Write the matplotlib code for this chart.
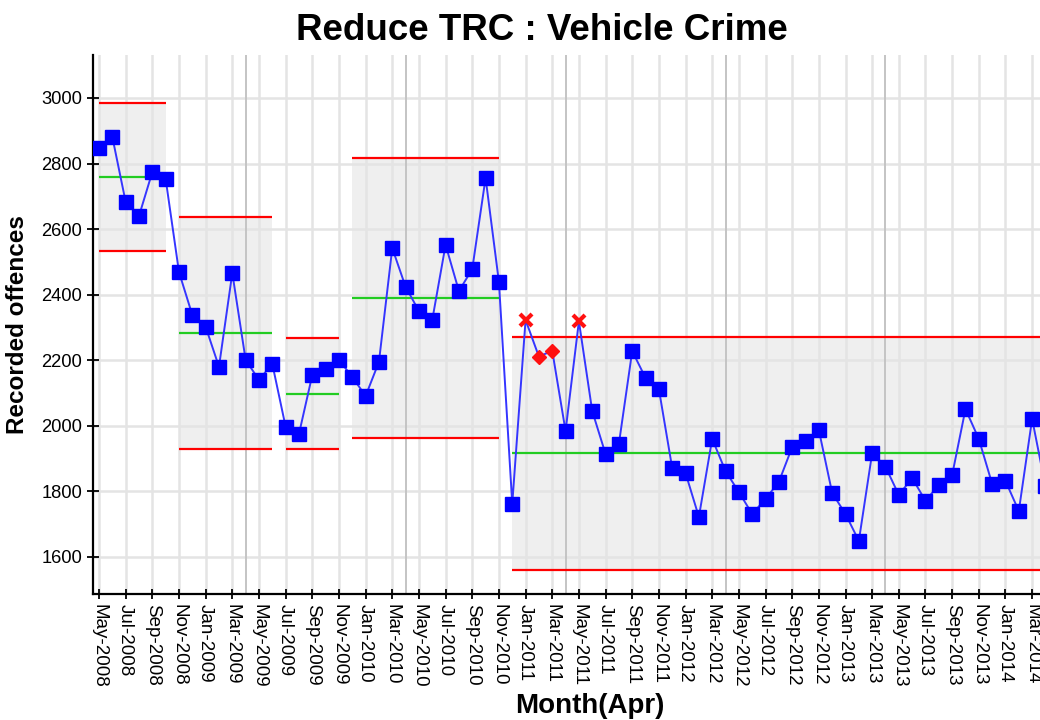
import matplotlib
matplotlib.use("Agg")
import matplotlib.pyplot as plt
import numpy as np

plt.rcParams['font.family'] = ['Liberation Sans', 'DejaVu Sans']

# ---- data ----
tick_labels = ["May-2008", "Jul-2008", "Sep-2008", "Nov-2008", "Jan-2009", "Mar-2009",
               "May-2009", "Jul-2009", "Sep-2009", "Nov-2009", "Jan-2010", "Mar-2010",
               "May-2010", "Jul-2010", "Sep-2010", "Nov-2010", "Jan-2011", "Mar-2011",
               "May-2011", "Jul-2011", "Sep-2011", "Nov-2011", "Jan-2012", "Mar-2012",
               "May-2012", "Jul-2012", "Sep-2012", "Nov-2012", "Jan-2013", "Mar-2013",
               "May-2013", "Jul-2013", "Sep-2013", "Nov-2013", "Jan-2014", "Mar-2014"]

values = [2847, 2881, 2683, 2640, 2774, 2753, 2469, 2338, 2302, 2180,
          2466, 2201, 2140, 2189, 1997, 1975, 2155, 2173, 2201, 2149,
          2091, 2195, 2542, 2424, 2350, 2323, 2552, 2411, 2478, 2756,
          2439, 1762, 2323, 2211, 2229, 1984, 2319, 2045, 1914, 1945,
          2228, 2146, 2112, 1871, 1856, 1722, 1960, 1862, 1798, 1731,
          1777, 1829, 1935, 1954, 1987, 1795, 1731, 1649, 1917, 1875,
          1789, 1841, 1771, 1820, 1850, 2051, 1960, 1823, 1832, 1740,
          2021, 1815]

# control-limit segments: (first month index, last month index)
seg_start = [0, 6, 14, 19, 31]
seg_end = [5, 13, 18, 30, 71]
seg_mean = [2759, 2283, 2097, 2390, 1917]
seg_ucl = [2985, 2637, 2268, 2817, 2271]
seg_lcl = [2533, 1929, 1929, 1963, 1560]

above_ucl_idx = [32, 36]      # red crosses
run_rule_idx = [33, 34]       # red diamonds
april_idx = [11, 23, 35, 47, 59]

# ---- figure ----
fig = plt.figure(figsize=(10.4, 7.2), dpi=100)
ax = fig.add_axes([93/1040, 1 - 594/720, 1 - 93/1040, (594 - 55)/720])

x = np.arange(len(values))
vals = np.array(values, dtype=float)

# shading + limits
for s, e, m, u, l in zip(seg_start, seg_end, seg_mean, seg_ucl, seg_lcl):
    ax.fill_between([s, e], [l, l], [u, u], color='#efefef', zorder=0.3, linewidth=0)
    ax.plot([s, e], [u, u], color='#ff0000', lw=1.6, zorder=2, solid_capstyle='butt')
    ax.plot([s, e], [l, l], color='#ff0000', lw=1.6, zorder=2, solid_capstyle='butt')
    ax.plot([s, e], [m, m], color='#22cc22', lw=1.6, zorder=2, solid_capstyle='butt')

# grid
ax.set_axisbelow(True)
ax.grid(True, color='#e4e4e4', lw=1.8, zorder=0.5)
for a in april_idx:
    ax.axvline(a, color='#c4c4c4', lw=1.4, zorder=0.6)

# data line
ax.plot(x, vals, color='#3535ff', lw=1.4, zorder=3)
normal = np.ones(len(vals), dtype=bool)
normal[above_ucl_idx] = False
normal[run_rule_idx] = False
ax.plot(x[normal], vals[normal], linestyle='none', marker='s', markersize=9.5,
        color='#0000ff', zorder=4)
ax.plot(x[above_ucl_idx], vals[above_ucl_idx], linestyle='none', marker='x',
        markersize=8, mew=3, color='#ff1010', zorder=4)
ax.plot(x[run_rule_idx], vals[run_rule_idx], linestyle='none', marker='D',
        markersize=7, color='#ff1010', zorder=4)

# axes
ax.set_xlim(-0.45, 70.59)
ax.set_ylim(1487, 3131)
ax.set_xticks(np.arange(0, 72, 2))
ax.set_xticklabels(tick_labels, rotation=270, fontsize=13.5)
ax.set_yticks(np.arange(1600, 3001, 200))
ax.tick_params(axis='y', labelsize=13.2, direction='inout', length=8, width=1.3, pad=4)
ax.tick_params(axis='x', direction='inout', length=7, width=1.3, pad=4)
for lbl in ax.get_xticklabels():
    lbl.set_verticalalignment('top')
    lbl.set_horizontalalignment('center')

for sp in ['top', 'right']:
    ax.spines[sp].set_visible(False)
for sp in ['left', 'bottom']:
    ax.spines[sp].set_linewidth(1.6)
    ax.spines[sp].set_color('black')

ax.set_ylabel('Recorded offences', fontsize=17.5, fontweight='bold')
ax.yaxis.set_label_coords(-0.068, 0.5)

fig.text(542/1040, 1 - 30/720, 'Reduce TRC : Vehicle Crime', fontsize=26.5,
         fontweight='bold', ha='center', va='center')
fig.text(590/1040, 1 - 706/720, 'Month(Apr)', fontsize=20, fontweight='bold',
         ha='center', va='center')

fig.savefig('out.png', dpi=100)
